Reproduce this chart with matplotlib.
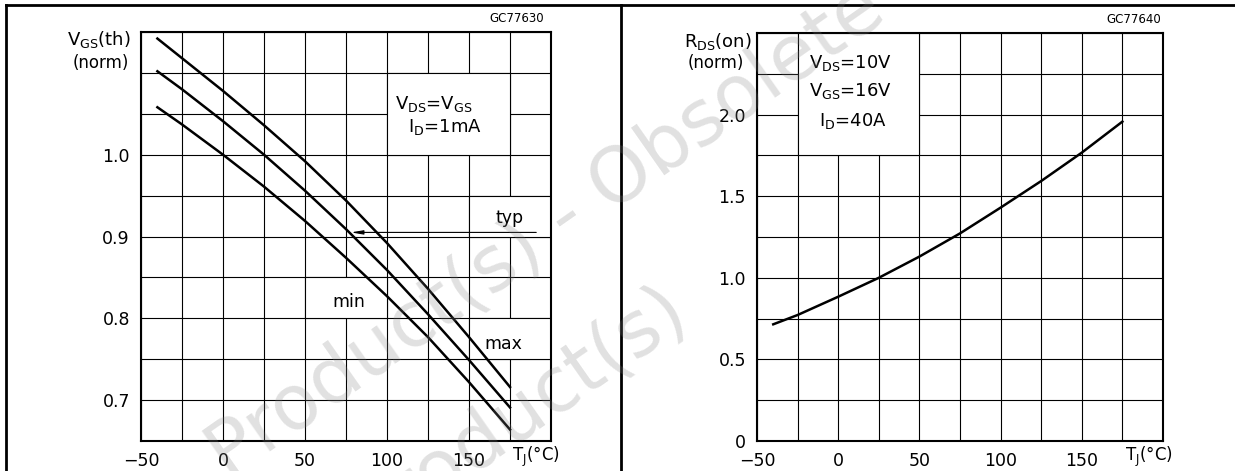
import numpy as np
import matplotlib
matplotlib.use("Agg")
import matplotlib.pyplot as plt
from matplotlib.patches import Rectangle
from matplotlib.lines import Line2D

plt.rcParams['font.family'] = ['DejaVu Sans']
plt.rcParams['mathtext.default'] = 'regular'

# junction temperature points
tj = [-40, -25, 0, 25, 50, 75, 100, 125, 150, 175]

# left: normalized gate threshold voltage
vth_max = [1.142, 1.118, 1.078, 1.036, 0.992, 0.944, 0.892, 0.836, 0.777, 0.716]
vth_typ = [1.102, 1.080, 1.041, 1.000, 0.956, 0.909, 0.859, 0.805, 0.749, 0.691]
vth_min = [1.058, 1.037, 1.000, 0.961, 0.919, 0.874, 0.827, 0.777, 0.722, 0.664]

# right: normalized on-resistance
rds_on = [0.715, 0.772, 0.884, 1.000, 1.130, 1.272, 1.430, 1.593, 1.767, 1.957]

x_ticks = [-50, 0, 50, 100, 150]
x_labels = ["\u221250", "0", "50", "100", "150"]
vth_ticks = [0.7, 0.8, 0.9, 1.0]
vth_labels = ["0.7", "0.8", "0.9", "1.0"]
rds_ticks = [0, 0.5, 1.0, 1.5, 2.0]
rds_labels = ["0", "0.5", "1.0", "1.5", "2.0"]

W, H = 1235, 471
fig = plt.figure(figsize=(W / 100, H / 100), dpi=100)

ax1 = fig.add_axes([141 / W, 1 - 441 / H, 410 / W, 409 / H])
ax2 = fig.add_axes([757 / W, 1 - 441 / H, 406 / W, 408 / H])


def setup(ax, ylo, yhi, ystep, yticks, ylabels):
    ax.set_xlim(-50, 200)
    ax.set_ylim(ylo, yhi)
    ax.set_xticks(np.arange(-50, 201, 25), minor=True)
    ax.set_yticks(np.arange(ylo, yhi + ystep / 2, ystep), minor=True)
    ax.set_xticks(x_ticks)
    ax.set_xticklabels(x_labels)
    ax.set_yticks(yticks)
    ax.set_yticklabels(ylabels)
    ax.grid(which='both', color='k', lw=0.8)
    ax.set_axisbelow(True)
    ax.tick_params(which='both', length=0, labelsize=12.5, pad=8)
    for s in ax.spines.values():
        s.set_linewidth(1.5)
    ax.text(191, -0.038, "T$_J$(\u00b0C)", transform=ax.get_xaxis_transform(),
            ha='center', va='center', fontsize=12)


setup(ax1, 0.65, 1.15, 0.05, vth_ticks, vth_labels)
setup(ax2, 0.0, 2.5, 0.25, rds_ticks, rds_labels)

# left chart
for (x0, y0, w, h) in [(100, 1.0, 75, 0.10), (150, 0.90, 50, 0.05),
                       (50, 0.80, 50, 0.05), (150, 0.75, 50, 0.05)]:
    ax1.add_patch(Rectangle((x0, y0), w, h, fc='white', ec='k', lw=0.8, zorder=1))

ax1.plot(tj, vth_max, color='k', lw=1.8, zorder=2)
ax1.plot(tj, vth_typ, color='k', lw=1.8, zorder=2)
ax1.plot(tj, vth_min, color='k', lw=1.8, zorder=2)

ax1.annotate("", xy=(78, 0.905), xytext=(191, 0.905),
             arrowprops=dict(arrowstyle='-|>,head_length=0.7,head_width=0.12',
                             color='k', lw=0.8, shrinkA=0, shrinkB=0), zorder=3)
ax1.text(175, 0.912, "typ", ha='center', va='bottom', fontsize=12.5)
ax1.text(77, 0.82, "min", ha='center', va='center', fontsize=12.5)
ax1.text(171, 0.769, "max", ha='center', va='center', fontsize=12.5)
ax1.text(105, 1.062, "V$_{DS}$=V$_{GS}$", ha='left', va='center', fontsize=13)
ax1.text(113, 1.034, "I$_D$=1mA", ha='left', va='center', fontsize=13)
ax1.text(196, 1.158, "GC77630", ha='right', va='bottom', fontsize=8.5)

fig.text(131 / W, 1 - 40 / H, "V$_{GS}$(th)", ha='right', va='center', fontsize=13)
fig.text(129 / W, 1 - 63 / H, "(norm)", ha='right', va='center', fontsize=12)

# right chart
ax2.add_patch(Rectangle((-25, 1.75), 75, 0.75, fc='white', ec='k', lw=0.8, zorder=1))
ax2.plot(tj, rds_on, color='k', lw=1.8, zorder=2)
ax2.text(-18, 2.315, "V$_{DS}$=10V", ha='left', va='center', fontsize=13)
ax2.text(-18, 2.147, "V$_{GS}$=16V", ha='left', va='center', fontsize=13)
ax2.text(-12, 1.963, "I$_D$=40A", ha='left', va='center', fontsize=13)
ax2.text(199, 2.54, "GC77640", ha='right', va='bottom', fontsize=8.5)

fig.text(752 / W, 1 - 42 / H, "R$_{DS}$(on)", ha='right', va='center', fontsize=13)
fig.text(744 / W, 1 - 63 / H, "(norm)", ha='right', va='center', fontsize=12)

# page frame
fig.add_artist(Line2D([6 / W, 1], [1 - 5 / H, 1 - 5 / H], color='k', lw=2))
fig.add_artist(Line2D([6 / W, 6 / W], [0, 1 - 5 / H], color='k', lw=2))
fig.add_artist(Line2D([621 / W, 621 / W], [0, 1 - 5 / H], color='k', lw=2))

# watermark
wm = dict(rotation=35, rotation_mode='anchor', va='baseline',
          fontsize=55, color='0.5', alpha=0.24, zorder=10)
fig.text(228 / W, 1 - 480 / H, "Product(s) - Obsolete Product(s)", ha='left', **wm)
fig.text(692 / W, 1 - 322 / H, "Obsolete Product(s) - Obsolete Product(s)", ha='right', **wm)

fig.savefig("out.png", dpi=100)
